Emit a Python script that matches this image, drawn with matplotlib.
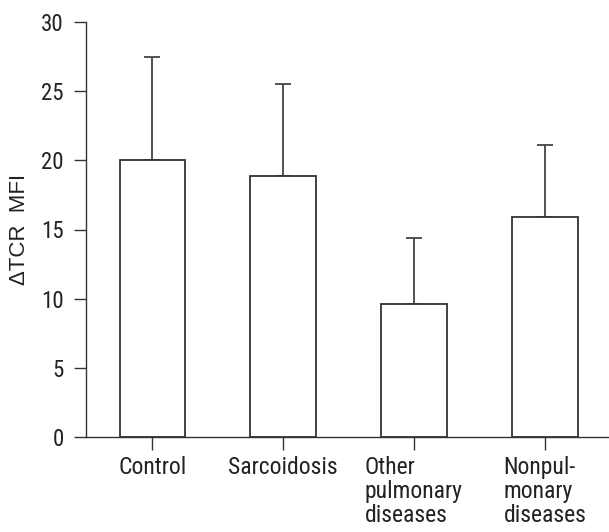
import matplotlib
matplotlib.use("Agg")
import matplotlib.pyplot as plt

plt.rcParams['font.family'] = ["Roboto Condensed", "DejaVu Sans"]

categories = ["Control", "Sarcoidosis", "Other\npulmonary\ndiseases", "Nonpul-\nmonary\ndiseases"]
means = [20.0, 18.9, 9.6, 15.9]
upper = [27.5, 25.5, 14.4, 21.1]
errs = [u - m for u, m in zip(upper, means)]
yticks = [0, 5, 10, 15, 20, 25, 30]

FS = 17
TXT = "#222222"

fig = plt.figure(figsize=(6.09, 5.32), dpi=100)
ax = fig.add_axes([86/609, 1 - 437/532, 1 - 86/609, (437 - 22)/532])

x = list(range(len(categories)))
ax.bar(x, means, width=0.5, color="white", edgecolor="#333333", linewidth=1.3, zorder=2)
ax.errorbar(x, means, yerr=[[0]*len(errs), errs], fmt="none", ecolor="#444444",
            elinewidth=1.3, capsize=5.5, capthick=1.3, zorder=1)

ax.set_ylim(0, 30)
ax.set_xlim(-0.506, 3.49)
ax.set_yticks(yticks)
ax.set_xticks(x)
ax.set_xticklabels(categories, fontsize=FS, linespacing=1.03, color=TXT)
for lab in ax.get_xticklabels():
    lab.set_multialignment("left")
ax.set_yticks(yticks)
ax.set_yticklabels([str(v) for v in yticks], fontsize=16.5, color=TXT)
ax.tick_params(axis="y", length=9, width=1.0, color="#333333", direction="out", pad=7)
ax.tick_params(axis="x", length=9, width=1.0, color="#333333", direction="out", pad=5)
for s in ["top", "right"]:
    ax.spines[s].set_visible(False)
for s in ["left", "bottom"]:
    ax.spines[s].set_linewidth(1.0)
    ax.spines[s].set_color("#333333")
ax.set_ylabel("ΔTCR  MFI", fontsize=16, family=["Liberation Sans", "DejaVu Sans"],
              color=TXT, labelpad=8)

fig.savefig("out.png", dpi=100)
